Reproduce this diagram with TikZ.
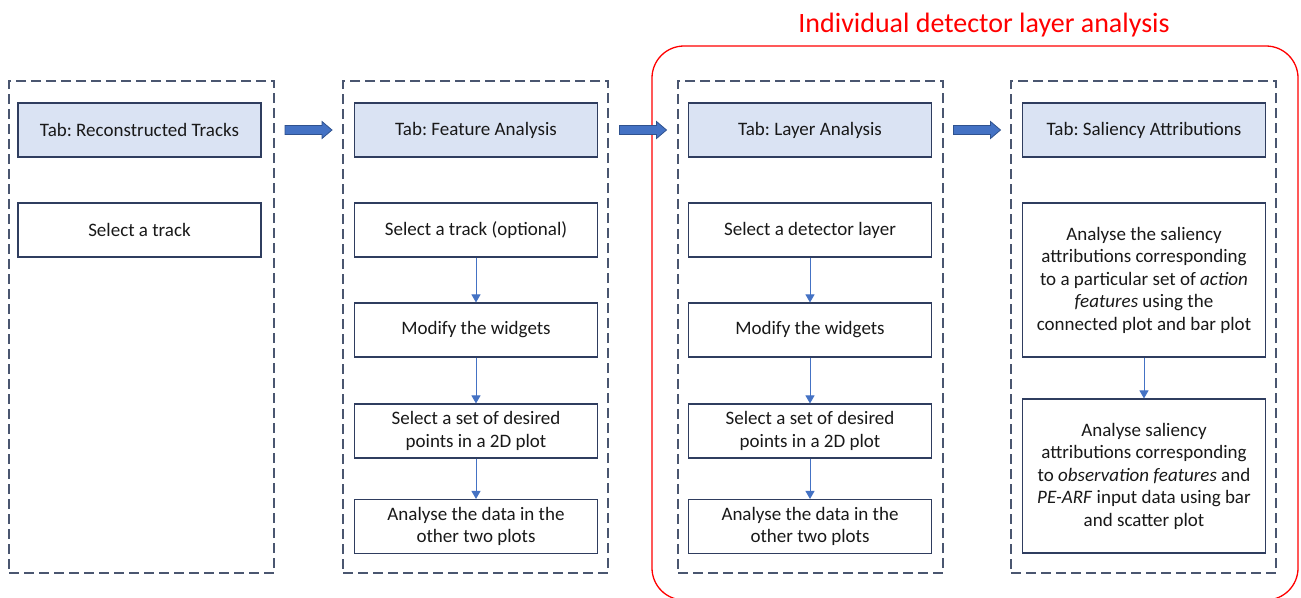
\documentclass[tikz,border=0pt]{standalone}
\usepackage{fontspec}
\setmainfont{Carlito}
\frenchspacing
\usetikzlibrary{arrows.meta,calc,positioning}
\definecolor{navy}{HTML}{2F3D5F}
\definecolor{dashgray}{HTML}{4A5670}
\definecolor{hdrfill}{HTML}{DAE3F3}
\definecolor{connblue}{HTML}{4472C4}
\definecolor{arrowblue}{HTML}{4472C4}
\definecolor{arrowedge}{HTML}{2F528F}
\definecolor{grpred}{HTML}{FF0000}
\begin{document}
\begin{tikzpicture}[x=1pt,y=-1pt,
  txt/.style={font=\fontsize{19}{22.5}\selectfont, text=black!90},
  hdr/.style={txt, draw=navy, line width=1.1pt, fill=hdrfill, minimum width=243pt, minimum height=54pt, inner sep=0pt, align=center},
  stepbox/.style={txt, draw=navy, line width=1.1pt, fill=white, minimum width=243pt, minimum height=54pt, inner sep=0pt, align=center},
  tabgroup/.style={draw=dashgray, line width=1.4pt, dash pattern=on 10pt off 5pt, minimum width=265pt, minimum height=492pt, inner sep=0pt},
  redgroup/.style={draw=grpred, line width=1.3pt, rounded corners=32pt, minimum width=646pt, minimum height=554pt, inner sep=0pt},
  conn/.style={draw=connblue, line width=1pt, -{Triangle[length=8pt,width=9pt]}},
  barrow/.pic={\draw[fill=arrowblue, draw=arrowedge, line width=0.8pt]
     (-23.5,-4.5) -- (13.5,-4.5) -- (13.5,-8.5) -- (23.5,0) -- (13.5,8.5) -- (13.5,4.5) -- (-23.5,4.5) -- cycle;}
]
\useasboundingbox (0,0) rectangle (1301,597);

% red group
\node[redgroup] (grp) at (975,323) {};
\node[anchor=base, text=grpred, font=\fontsize{28}{32}\selectfont] (title) at (984,32) {Individual detector layer analysis};

% dashed tab groups
\node[tabgroup] (d1) at (141.5,327) {};
\node[tabgroup] (d2) at (475.5,327) {};
\node[tabgroup] (d3) at (810.5,327) {};
\node[tabgroup] (d4) at (1143.5,327) {};

% column 1
\node[hdr] (h1) at (139.5,130) {Tab: Reconstructed Tracks};
\node[stepbox] (s11) at (139.5,230) {Select a track};

% column 2
\node[hdr] (h2) at (476,130) {Tab: Feature Analysis};
\node[stepbox] (s21) at (476,230) {Select a track (optional)};
\node[stepbox] (s22) at (476,330) {Modify the widgets};
\node[stepbox] (s23) at (476,431) {Select a set of desired\\points in a 2D plot};
\node[stepbox] (s24) at (476,526.5) {Analyse the data in the\\other two plots};

% column 3
\node[hdr] (h3) at (810,130) {Tab: Layer Analysis};
\node[stepbox] (s31) at (810,230) {Select a detector layer};
\node[stepbox] (s32) at (810,330) {Modify the widgets};
\node[stepbox] (s33) at (810,431) {Select a set of desired\\points in a 2D plot};
\node[stepbox] (s34) at (810,526.5) {Analyse the data in the\\other two plots};

% column 4
\node[hdr] (h4) at (1144,130) {Tab: Saliency Attributions};
\node[stepbox, minimum height=154pt] (s41) at (1144,280) {Analyse the saliency\\attributions corresponding\\to a particular set of \textit{action}\\\textit{features} using the\\connected plot and bar plot};
\node[stepbox, minimum height=154pt] (s42) at (1144,476) {Analyse saliency\\attributions corresponding\\to \textit{observation features} and\\\textit{PE-ARF} input data using bar\\and scatter plot};

% vertical connectors
\draw[conn] (s21) -- (s22);
\draw[conn] (s22) -- (s23);
\draw[conn] (s23) -- (s24);
\draw[conn] (s31) -- (s32);
\draw[conn] (s32) -- (s33);
\draw[conn] (s33) -- (s34);
\draw[conn] (s41) -- (s42);

% block arrows between tabs
\coordinate (m1) at ($(d1.east)!0.5!(d2.west)$);
\coordinate (m2) at ($(d2.east)!0.5!(d3.west)$);
\coordinate (m3) at ($(d3.east)!0.5!(d4.west)$);
\pic at (m1 |- h1) {barrow};
\pic at (m2 |- h2) {barrow};
\pic at (m3 |- h3) {barrow};
\end{tikzpicture}
\end{document}
